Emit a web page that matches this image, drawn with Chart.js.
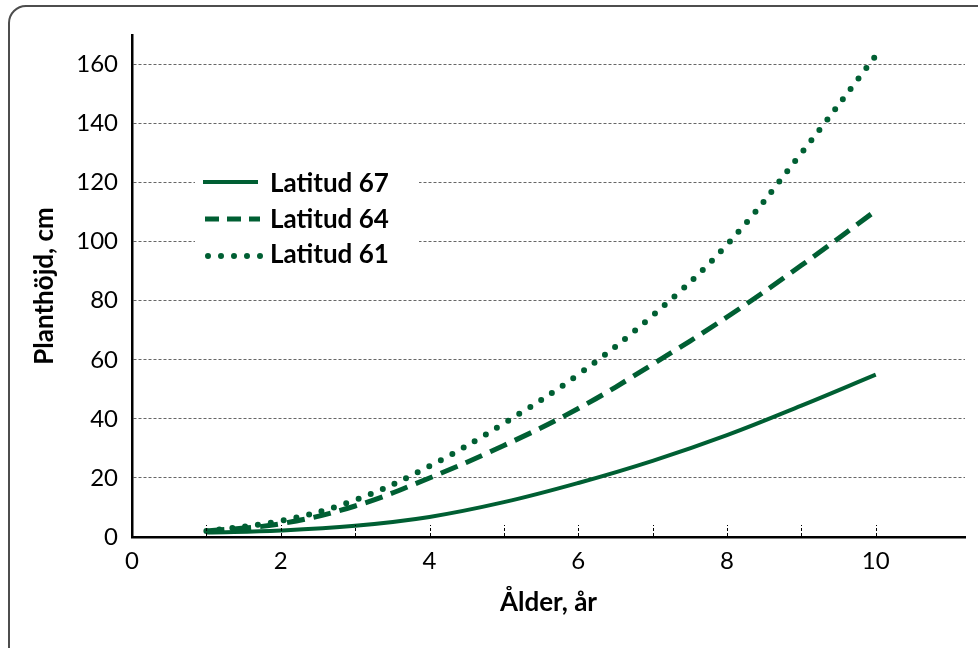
<!DOCTYPE html>
<html><head><meta charset="utf-8">
<script src="https://cdn.jsdelivr.net/npm/chart.js@4/dist/chart.umd.min.js"></script>
<style>
html,body{margin:0;padding:0;background:#fff;overflow:hidden;width:978px;height:648px;}
#frame{position:absolute;left:8px;top:5px;width:1100px;height:800px;border:2px solid #4d4d4d;border-radius:18px;box-sizing:border-box;}
#c{position:absolute;left:0;top:0;}
</style></head><body>
<div id="frame"></div>
<canvas id="c" width="978" height="648"></canvas>
<script>
const ages = [1, 2, 3, 4, 5, 6, 7, 8, 9, 10];
const lat67 = [1.5, 2.2, 3.8, 6.8, 11.8, 18.3, 25.8, 34.5, 44.5, 55];
const lat64 = [2, 4.5, 10.5, 20, 31, 43.5, 58.5, 74.5, 92, 110.5];
const lat61 = [2, 5.5, 12.5, 24, 38.5, 55, 75, 99, 130, 163];
const seriesLabels = ['Latitud 67', 'Latitud 64', 'Latitud 61'];
const yTickValues = [0, 20, 40, 60, 80, 100, 120, 140, 160];
const xTickValues = [0, 2, 4, 6, 8, 10];
const xMinorTicks = [1, 2, 3, 4, 5, 6, 7, 8, 9, 10];

const GREEN = '#005f33';
const FONT = 'Lato, "Open Sans", sans-serif';

const toPts = (xs, ys) => xs.map((x, i) => ({x: x, y: ys[i]}));

const styles = [
  {borderWidth: 4, borderDash: [], borderCapStyle: 'butt'},
  {borderWidth: 5, borderDash: [18, 9], borderCapStyle: 'butt'},
  {borderWidth: 6, borderDash: [0, 13], borderCapStyle: 'round'}
];
const seriesData = [lat67, lat64, lat61];

const minorTickPlugin = {
  id: 'minorTicks',
  afterDatasetsDraw(chart) {
    const {ctx, scales: {x}, chartArea} = chart;
    ctx.save();
    ctx.strokeStyle = '#000';
    ctx.lineWidth = 1;
    ctx.setLineDash([3, 2]);
    xMinorTicks.forEach(v => {
      const px = Math.round(x.getPixelForValue(v)) + 0.5;
      ctx.beginPath();
      ctx.moveTo(px, chartArea.bottom - 1);
      ctx.lineTo(px, chartArea.bottom - 12);
      ctx.stroke();
    });
    ctx.restore();
  }
};

const legendPlugin = {
  id: 'inlineLegend',
  beforeDatasetsDraw(chart) {
    const {ctx} = chart;
    ctx.save();
    ctx.fillStyle = '#fff';
    ctx.fillRect(195, 165, 224, 104);
    const rowsY = [182, 219, 256];
    const textY = [192, 228, 263];
    styles.forEach((s, i) => {
      ctx.save();
      ctx.strokeStyle = GREEN;
      ctx.lineWidth = s.borderWidth;
      ctx.lineCap = s.borderCapStyle;
      ctx.beginPath();
      if (i === 2) {
        ctx.setLineDash([0, 13]);
        ctx.moveTo(208, rowsY[i]);
        ctx.lineTo(262, rowsY[i]);
      } else if (i === 1) {
        ctx.setLineDash([14, 8]);
        ctx.moveTo(205, rowsY[i]);
        ctx.lineTo(260, rowsY[i]);
      } else {
        ctx.moveTo(203, rowsY[i]);
        ctx.lineTo(258, rowsY[i]);
      }
      ctx.stroke();
      ctx.restore();
      ctx.fillStyle = '#000';
      ctx.font = 'bold 26px ' + FONT;
      ctx.textBaseline = 'alphabetic';
      ctx.textAlign = 'left';
      ctx.fillText(seriesLabels[i], 270, textY[i]);
    });
    ctx.restore();
  }
};

new Chart(document.getElementById('c'), {
  type: 'line',
  data: {
    datasets: seriesData.map((d, i) => ({
      label: seriesLabels[i],
      data: toPts(ages, d),
      borderColor: GREEN,
      backgroundColor: GREEN,
      borderWidth: styles[i].borderWidth,
      borderDash: styles[i].borderDash,
      borderCapStyle: styles[i].borderCapStyle,
      pointRadius: 0,
      fill: false,
      tension: 0.4
    }))
  },
  options: {
    responsive: false,
    animation: false,
    devicePixelRatio: 1,
    layout: {padding: {left: 0, right: 13, top: 35, bottom: 0}},
    plugins: {legend: {display: false}, tooltip: {enabled: false}},
    scales: {
      x: {
        type: 'linear',
        min: 0, max: 11.2,
        afterBuildTicks: s => { s.ticks = xTickValues.map(v => ({value: v})); },
        afterFit: s => { s.height = 111; },
        grid: {drawOnChartArea: false, drawTicks: false},
        border: {color: '#000', width: 2.5},
        ticks: {color: '#000', font: {family: FONT, size: 24}, padding: 10, maxRotation: 0},
        title: {display: true, text: 'Ålder, år', color: '#000', font: {family: FONT, size: 26, weight: 'bold'}, padding: {top: 0, bottom: 30}}
      },
      y: {
        min: 0, max: 170,
        afterBuildTicks: s => { s.ticks = yTickValues.map(v => ({value: v})); },
        afterFit: s => { s.width = 132; },
        grid: {
          drawTicks: false,
          color: c => (c.tick && c.tick.value === 0) ? 'rgba(0,0,0,0)' : '#666',
          lineWidth: 1
        },
        border: {color: '#000', width: 2.5, dash: [3, 2]},
        ticks: {color: '#000', font: {family: FONT, size: 24}, padding: 14},
        title: {display: true, text: 'Planthöjd, cm', color: '#000', font: {family: FONT, size: 26, weight: 'bold'}, padding: {top: 29, bottom: 0}}
      }
    }
  },
  plugins: [minorTickPlugin, legendPlugin]
});
</script>
</body></html>
